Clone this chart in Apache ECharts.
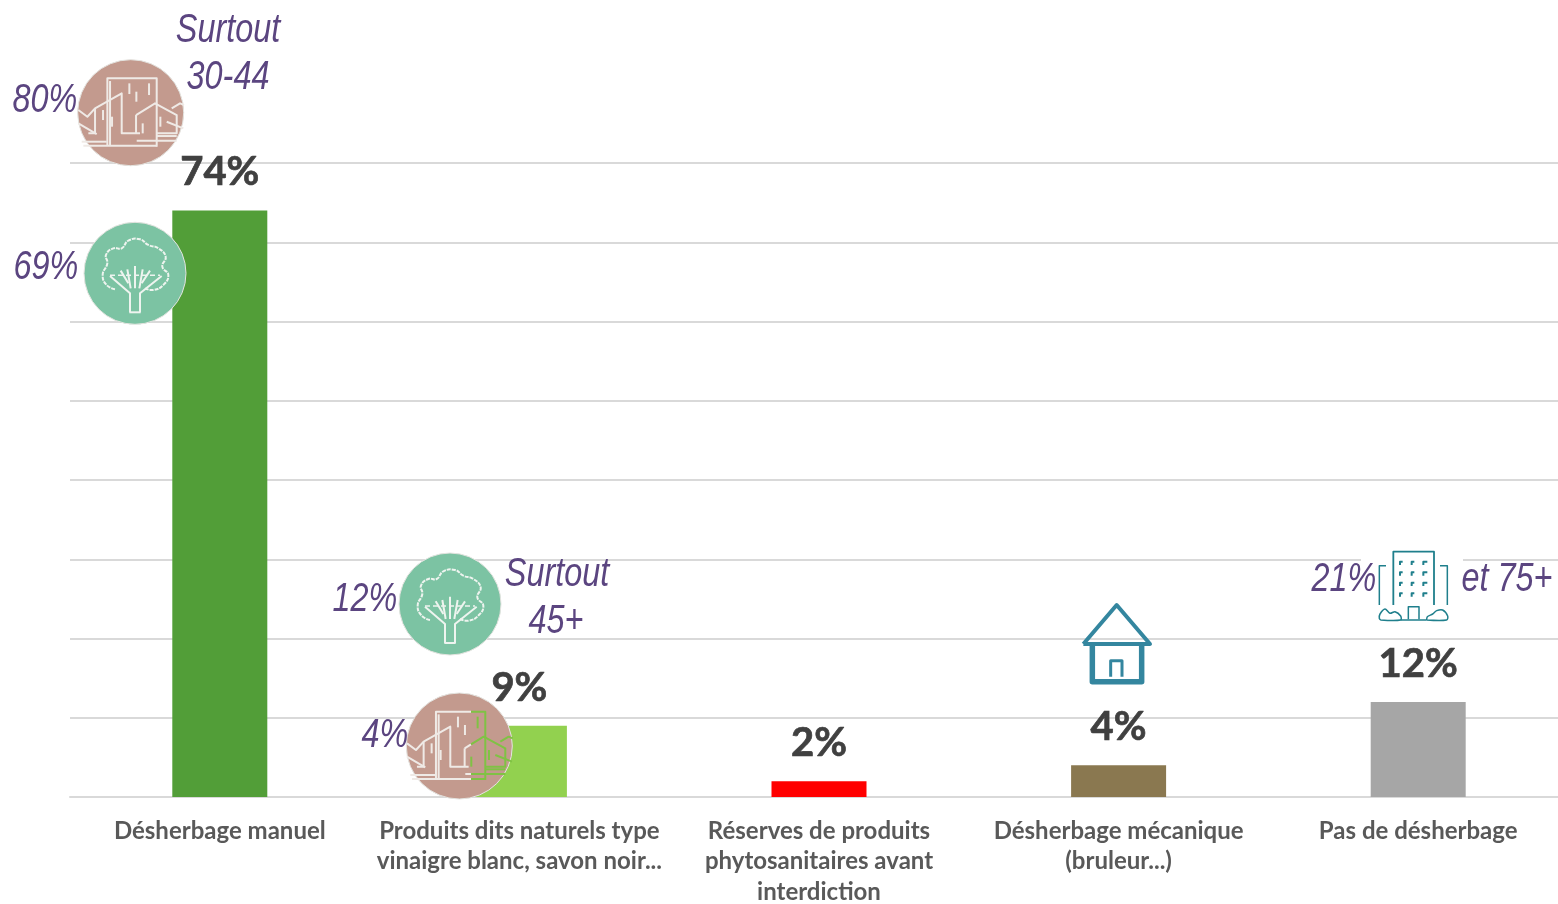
<!DOCTYPE html>
<html><head><meta charset="utf-8">
<style>html,body{margin:0;padding:0;background:#fff}#c{width:1558px;height:904px}</style>
<script src="https://cdn.jsdelivr.net/npm/echarts@6/dist/echarts.min.js"></script></head>
<body><div id="c"></div>
<script>
const categories = ['Désherbage manuel','Produits dits naturels type\nvinaigre blanc, savon noir...','Réserves de produits\nphytosanitaires avant\ninterdiction','Désherbage mécanique\n(bruleur...)','Pas de désherbage'];
const values = [74, 9, 2, 4, 12];
const barColors = ['#529e38','#92d14f','#ff0000','#8a7850','#a6a6a6'];
const yTicksMax = 80;
const notes = ['Surtout','30-44','80%','69%','12%','Surtout','45+','4%','21%','et 75+'];

const Z = 50;
const PURPLE = '#5b4580';
const PINK = '#c39a8e', MINT = '#7cc3a3';
const all = [];
function line(pts, color, w, extra){
  all.push({type:'polyline', z:Z+2, shape:Object.assign({points:pts}, extra&&extra.shape||{}),
    style:{stroke:color, lineWidth:w, fill:null, lineDash:extra&&extra.dash||null, lineJoin:'round', lineCap:'butt'}, silent:true});
}
function note(t, x, y){
  all.push({type:'text', z:Z+3, silent:true, x:x, y:y, scaleX:0.79,
    style:{text:t, x:0, y:0, fill:PURPLE, fontFamily:'"Liberation Sans"', fontStyle:'italic', fontSize:41, align:'center', verticalAlign:'middle'}});
}
function circle(cx, cy, r, fill){
  all.push({type:'circle', z:Z, silent:true, shape:{cx:cx, cy:cy, r:r}, style:{fill:fill, stroke:'#e4e4e0', lineWidth:1}});
}
function splitLine(pts, cut, c1, c2, w){
  let cur = [pts[0]], left = pts[0][0] < cut;
  for (let i = 1; i < pts.length; i++){
    const a = pts[i-1], b = pts[i], bl = b[0] < cut;
    if (bl !== left){
      const t = (cut-a[0])/(b[0]-a[0]), m = [cut, a[1]+t*(b[1]-a[1])];
      cur.push(m); line(cur, left?c1:c2, w);
      cur = [m]; left = bl;
    }
    cur.push(b);
  }
  line(cur, left?c1:c2, w);
}
const cityLines = [
 [[322,437],[322,235],[470,235],[470,440]],
 [[330,437],[330,243]],
 [[235,330],[262,350],[285,325],[365,280],[365,400],[420,400]],
 [[285,325],[285,400],[265,400]],
 [[235,370],[290,402]],
 [[408,345],[465,310],[530,345],[530,400],[470,400]],
 [[408,345],[408,400]],
 [[515,325],[540,310],[552,315]],
 [[500,365],[550,385]],
 [[245,425],[320,425]],[[250,437],[470,437]],[[410,422],[530,422]],
 [[470,408],[530,408]],
 [[388,250],[388,282]],[[447,250],[447,285]],[[409,275],[409,305]],
 [[309,330],[309,360]],[[336,350],[336,380]],[[428,370],[428,400]],[[481,350],[481,380]]
];
function city(cx, cy, cut, c2){
  circle(cx, cy, 53, PINK);
  cityLines.forEach(l=>{
    const p = l.map(q=>[cx+(q[0]-392)/3, cy+(q[1]-338)/3]);
    if (cut) splitLine(p, cut, '#efeae6', c2, 2); else line(p, '#efeae6', 2);
  });
}
const crown = [[345,868],[320,855],[308,825],[322,790],[318,765],[340,745],[365,745],[385,722],[420,718],[445,735],[475,745],[497,770],[487,800],[505,825],[490,855],[460,870],[435,865]];
const tree = [
 [[390,937],[390,880],[330,828]],[[420,937],[420,880],[485,828]],[[388,937],[422,937]],
 [[405,798],[405,865]],[[382,808],[392,865]],[[428,808],[418,865]],[[362,812],[385,850]],[[450,812],[425,850]]
];
function treeIcon(cx, cy){
  circle(cx, cy, 51, MINT);
  const m = q=>[cx+(q[0]-405)/3, cy+(q[1]-820)/3];
  line(crown.map(m), '#eef4ef', 2, {shape:{smooth:0.5}, dash:[4,1]});
  tree.forEach(l=>line(l.map(m), '#eef4ef', 2));
  line([[330,826],[480,826]].map(m), '#eef4ef', 1.6, {dash:[5,3]});
}
const z3 = q=>[1060+q[0]/3, 540+q[1]/3];
function house(){
  const c='#34869f';
  line([[70,312],[170,195],[270,312],[70,312]].map(z3), c, 4);
  line([[97,315],[97,425],[245,425],[245,315]].map(z3), c, 5.5);
  line([[152,410],[152,362],[186,362],[186,410]].map(z3), c, 3);
}
function tower(){
  const c='#1f7f8c';
  all.push({type:'rect', z:Z-1, silent:true, shape:{x:1361,y:549,width:102,height:73}, style:{fill:'#fff'}});
  line([[1000,195],[1000,35],[1122,35],[1122,195]].map(z3), c, 1.8);
  line([[958,195],[958,77],[978,77]].map(z3), c, 1.5);
  line([[1140,77],[1162,77],[1162,195]].map(z3), c, 1.5);
  line([[1045,238],[1045,200],[1077,200],[1077,238]].map(z3), c, 1.5);
  line([[962,240],[1022,240],[1022,228],[1005,215],[990,220],[975,207],[960,222],[958,235],[962,240]].map(z3), c, 1.5, {shape:{smooth:0.3}});
  line([[1100,240],[1160,240],[1163,228],[1148,210],[1130,212],[1118,222],[1102,230],[1100,240]].map(z3), c, 1.5, {shape:{smooth:0.3}});
  line([[1022,240],[1100,240]].map(z3), c, 1.5);
  [65,97,128,160].forEach(y=>[1020,1055,1090].forEach(x=>{
    line([[x,y+10],[x,y],[x+(x===1090?12:8),y]].map(z3), c, 2);
  }));
}
city(130.7, 112.7);
treeIcon(135, 273.3);
treeIcon(450, 604);
city(459.3, 746, 471, '#7fc244');
house();
tower();
const notePos = [[228,31],[228,78],[45,101],[46,268],[365,600],[557,575],[556,622],[385,736],[1344,580],[1507,580]];
notes.forEach((t,i)=>note(t, notePos[i][0], notePos[i][1]));

const chart = echarts.init(document.getElementById('c'), null, {renderer:'canvas'});
chart.setOption({
  animation:false,
  backgroundColor:'#fff',
  grid:{left:70, right:-10, top:163, bottom:107, containLabel:false, outerBoundsMode:'none'},
  xAxis:{type:'category', data:categories, axisTick:{show:false},
    axisLine:{lineStyle:{color:'#d9d9d9', width:2}},
    axisLabel:{interval:0, margin:19, color:'#595959', fontFamily:'Lato', fontWeight:'bold', fontSize:24, lineHeight:30.5, align:'center', hideOverlap:false}},
  yAxis:{type:'value', min:0, max:yTicksMax, interval:10, axisLabel:{show:false}, axisLine:{show:false}, axisTick:{show:false},
    splitLine:{lineStyle:{color:'#d9d9d9', width:2}}},
  series:[{type:'bar', barWidth:95, z:3,
    data:values.map((v,i)=>({value:v, itemStyle:{color:barColors[i]}})),
    label:{show:true, position:'top', distance:18, formatter:'{c}%', color:'#404040', fontFamily:'Lato', fontWeight:'bold', fontSize:40, textBorderColor:'#404040', textBorderWidth:0.7}}],
  graphic:{elements:all}
});
</script></body></html>
